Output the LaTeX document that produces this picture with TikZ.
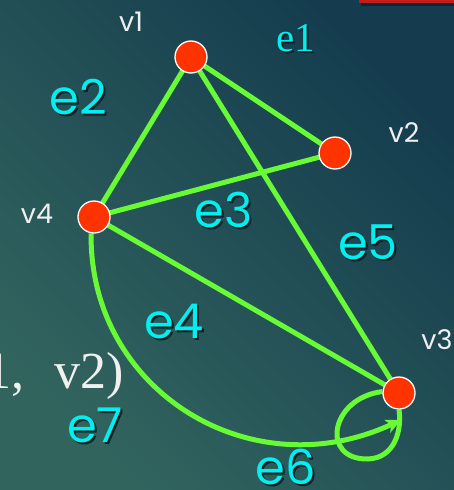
\documentclass[tikz,border=0pt]{standalone}
\usepackage{fontspec}
\setmainfont{Liberation Serif}
\newfontfamily\geo{Poppins}
\usetikzlibrary{arrows.meta}
\definecolor{edgegreen}{RGB}{104,250,52}
\definecolor{vred}{RGB}{255,51,0}
\definecolor{labcyan}{RGB}{0,240,240}
\definecolor{bgA}{RGB}{20,60,78}
\definecolor{bgB}{RGB}{50,100,94}
\definecolor{shadowc}{RGB}{8,30,36}
\definecolor{barred}{RGB}{196,28,28}
\definecolor{vtext}{RGB}{240,240,240}
\pgfdeclarelayer{back}
\pgfdeclarelayer{edges}
\pgfsetlayers{back,edges,main}
\begin{document}
\begin{tikzpicture}[x=1pt,y=-1pt,
  vertex/.style={circle, fill=vred, draw=white, line width=1.3pt, minimum size=32pt, inner sep=0pt},
  edge/.style={draw=edgegreen, line width=5pt},
  elab/.style={text=labcyan, font=\geo\fontsize{48}{48}\selectfont, inner sep=0pt},
  elabsh/.style={elab, text=shadowc},
  slab/.style={text=labcyan, font=\fontsize{41}{41}\selectfont, inner sep=0pt},
  slabsh/.style={slab, text=shadowc},
  vlab/.style={text=vtext, font=\geo\fontsize{27}{27}\selectfont, inner sep=0pt}]
\useasboundingbox (0,0) rectangle (454,490);
\begin{pgfonlayer}{back}
\shade[top color=bgA, bottom color=bgB, shading angle=-45] (0,0) rectangle (454,490);
\fill[black, opacity=0.35] (361,2) rectangle (454,6);
\fill[barred] (359,0) rectangle (454,2.5);
\end{pgfonlayer}

% vertices
\node[vertex] (v1) at (191,57) {};
\node[vertex] (v2) at (335,153) {};
\node[vertex] (v4) at (94,217) {};
\node[vertex] (v3) at (399,393) {};
\coordinate (e7end) at (401,420);

\begin{pgfonlayer}{edges}
\draw[edge] (v1.center) -- (v2.center);
\draw[edge] (v1.center) -- (v4.center);
\draw[edge] (v4.center) -- (v2.center);
\draw[edge] (v4.center) -- (v3.center);
\draw[edge] (v1.center) -- (v3.center);
\draw[edge, -{Stealth[length=15pt,width=14pt,inset=4pt]}] (v4.-100) .. controls (89,390) and (250,490) .. (e7end);
\draw[edge] (v3.175) .. controls (330,398) and (320,460) .. (368,459) .. controls (395,458) and (402,430) .. (v3.-90);
\end{pgfonlayer}

% vertex labels
\node[vlab] (lv1) at (131,22) {v1};
\node[vlab] (lv2) at (404,133) {v2};
\node[vlab] (lv4) at (37,214) {v4};
\node[vlab] (lv3) at (437,340) {v3};

% edge labels with shadows
\node[slabsh] (e1s) at (298,40) {e1};
\node[slab] (e1) at (296,38) {e1};
\node[elabsh] (e2s) at (80,99) {e2};
\node[elab] (e2) at (78,97) {e2};
\node[elabsh] (e3s) at (226,212) {e3};
\node[elab] (e3) at (224,210) {e3};
\node[elabsh] (e5s) at (370,244) {e5};
\node[elab] (e5) at (368,242) {e5};
\node[elabsh] (e4s) at (176,324) {e4};
\node[elab] (e4) at (174,322) {e4};
\node[elabsh] (e7s) at (97,427) {e7};
\node[elab] (e7) at (95,425) {e7};
\node[elabsh] (e6s) at (288,469) {e6};
\node[elab] (e6) at (286,467) {e6};

% partial text at left
\begin{scope}
\clip (0,0) rectangle (454,490);
\node[anchor=base east, text=vtext, font=\fontsize{52}{52}\selectfont, inner sep=0pt] (pair) at (124,388) {(v1,\hspace{30pt}v2)};
\end{scope}
\end{tikzpicture}
\end{document}
